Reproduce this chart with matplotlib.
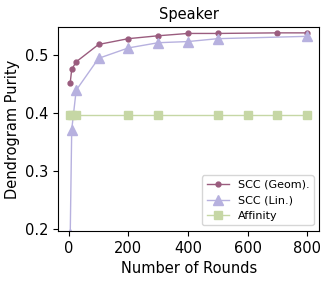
import matplotlib
matplotlib.use('Agg')
import matplotlib.pyplot as plt

# values
rounds_geom = [5, 10, 25, 100, 200, 300, 400, 500, 700, 800]
purity_geom = [0.452, 0.475, 0.488, 0.518, 0.528, 0.533, 0.537, 0.537, 0.538, 0.538]

rounds_lin = [5, 10, 25, 100, 200, 300, 400, 500, 800]
purity_lin = [0.19, 0.371, 0.439, 0.494, 0.512, 0.521, 0.523, 0.528, 0.532]

rounds_aff = [5, 10, 25, 200, 300, 500, 600, 700, 800]
purity_aff = [0.396] * len(rounds_aff)

fig = plt.figure(figsize=(3.32, 2.82), dpi=100)
ax = fig.add_axes([0.1756, 0.181, 0.786, 0.723])

ax.plot(rounds_geom, purity_geom, marker='o', markersize=3.5, linewidth=1,
        color='#9a5c7e', label='SCC (Geom).')
ax.plot(rounds_lin, purity_lin, marker='^', markersize=7, linewidth=1,
        color='#b7b1df', label='SCC (Lin.)')
ax.plot(rounds_aff, purity_aff, marker='s', markersize=6, linewidth=1,
        color='#c6d7a5', label='Affinity')

ax.set_xlim(-35, 840)
ax.set_ylim(0.196, 0.548)
ax.set_xticks([0, 200, 400, 600, 800])
ax.set_yticks([0.2, 0.3, 0.4, 0.5])
ax.tick_params(labelsize=10.5)
ax.set_xlabel('Number of Rounds', fontsize=10.5)
ax.set_ylabel('Dendrogram Purity', fontsize=10.5)
ax.set_title('Speaker', fontsize=10.5)
ax.legend(loc='lower right', fontsize=8)

fig.savefig('out.png', dpi=100)
